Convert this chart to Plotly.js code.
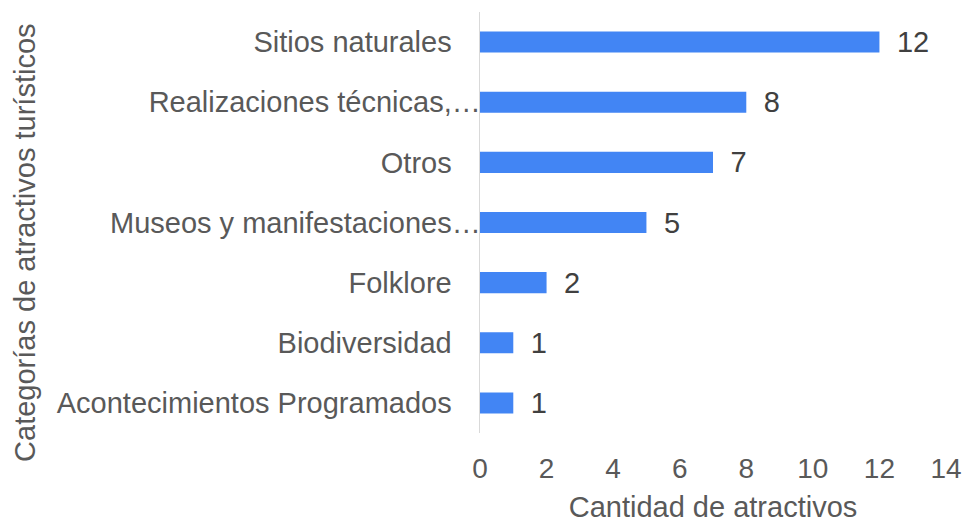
<!DOCTYPE html>
<html>
<head>
<meta charset="utf-8">
<script src="https://cdn.plot.ly/plotly-3.0.1.min.js"></script>
<style>html,body{margin:0;padding:0;background:#fff;}#chart{width:970px;height:523px;}</style>
</head>
<body>
<div id="chart"></div>
<script>
const categories = ["Sitios naturales","Realizaciones técnicas,…","Otros","Museos y manifestaciones…","Folklore","Biodiversidad","Acontecimientos Programados"];
const values = [12, 8, 7, 5, 2, 1, 1];
const xTickValues = [0, 2, 4, 6, 8, 10, 12, 14];
const xTitle = "Cantidad de atractivos";
const yTitle = "Categorías de atractivos turísticos";

const FONT = '"Liberation Sans", Arial, sans-serif';
// truncated labels reach the axis; full labels keep a gap
const tickText = categories.map(c => c.endsWith("…") ? c : c + "\u2002\u2002");

const trace = {
  type: "bar",
  orientation: "h",
  y: categories,
  x: values,
  marker: {color: "#4285F4"},
  texttemplate: "\u2002%{x}",
  textposition: "outside",
  constraintext: "none",
  cliponaxis: false,
  textfont: {family: FONT, size: 29, color: "#404040"},
  hoverinfo: "none"
};

const layout = {
  width: 970, height: 523,
  margin: {l: 480, r: 24, t: 12, b: 90},
  paper_bgcolor: "#fff", plot_bgcolor: "#fff",
  font: {family: FONT, color: "#595959"},
  showlegend: false,
  bargap: 0.65,
  xaxis: {
    range: [0, 14], tickvals: xTickValues, showgrid: false, zeroline: false,
    showline: false, ticks: "", tickfont: {size: 28, color: "#595959"},
    ticklabelstandoff: 16,
    title: {text: xTitle, font: {size: 29, color: "#595959"}, standoff: 14},
    automargin: false
  },
  yaxis: {
    type: "category", autorange: "reversed", tickvals: categories, ticktext: tickText,
    showgrid: false, zeroline: false, showline: true, linecolor: "#d9d9d9", linewidth: 1.5,
    ticks: "", tickfont: {size: 29, color: "#595959"}, ticklabelstandoff: -8,
    automargin: false
  },
  annotations: [{
    text: yTitle, xref: "paper", yref: "paper", x: -0.976, y: 0.452,
    xanchor: "center", yanchor: "middle", textangle: -90, showarrow: false,
    font: {family: FONT, size: 29, color: "#595959"}
  }]
};

Plotly.newPlot("chart", [trace], layout, {displayModeBar: false, staticPlot: true});
</script>
</body>
</html>
